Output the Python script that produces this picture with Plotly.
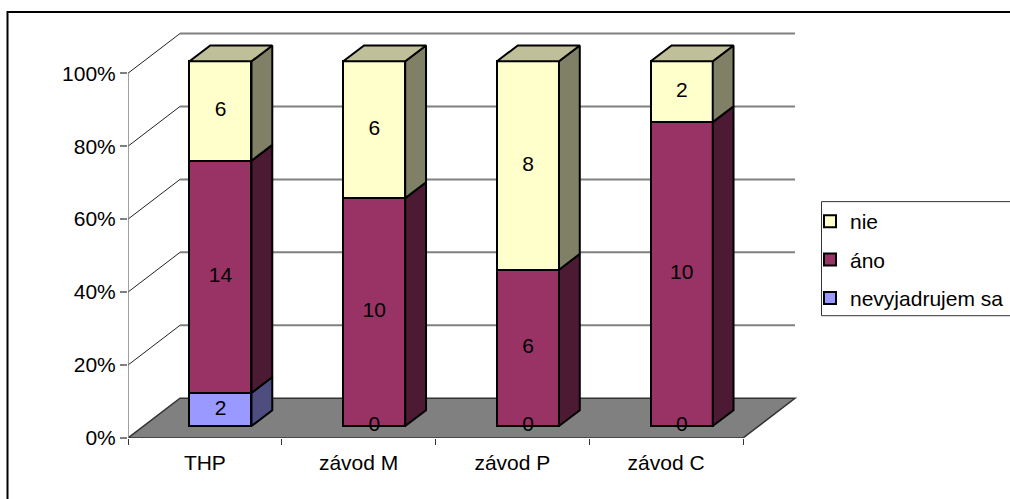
import plotly.graph_objects as go

# Survey answers per workplace (counts of respondents)
categories = ["THP", "závod M", "závod P", "závod C"]
nevyjadrujem_sa = [2, 0, 0, 0]
ano = [14, 10, 6, 10]
nie = [6, 6, 8, 2]
percent_ticks = [0, 20, 40, 60, 80, 100]

W, H = 1010, 499
# The plot area is slightly larger than the wall so the top gridline is not clipped
PLOT_L, PLOT_R, PLOT_T, PLOT_B = 128, 800, 30, 437.7
CAT_PX = 153.75
PCT_PX = 3.645

# Oblique projection: full floor depth expressed in axis units
DEPTH_X = 52 / CAT_PX
DEPTH_Y = 39.7 / PCT_PX
BAR_NEAR, BAR_FAR = 0.3, 0.7
BAR_W = 62 / CAT_PX
X_MAX = (PLOT_R - PLOT_L) / CAT_PX
Y_MAX = (PLOT_B - PLOT_T) / PCT_PX

FONT = "Liberation Sans, Arial, sans-serif"
FONT_SIZE = 21

# Stack order from the floor upwards
stack_bottom_up = [
    ("nevyjadrujem sa", nevyjadrujem_sa, "#9999FF", "#4D4D80"),
    ("áno", ano, "#993366", "#4D1A33"),
    ("nie", nie, "#FFFFCC", "#808066"),
]
TOP_COLOR = "#BFBF99"


def px_x(px):
    return (px - PLOT_L) / (PLOT_R - PLOT_L)


def px_y(px):
    return (PLOT_B - px) / (PLOT_B - PLOT_T)


def proj(cat, pct, depth):
    return cat + depth * DEPTH_X, pct + depth * DEPTH_Y


def path(points, close=True):
    d = "M" + " L".join(f"{x},{y}" for x, y in points)
    return d + (" Z" if close else "")


totals = [sum(s[1][i] for s in stack_bottom_up) for i in range(len(categories))]
segments = {}
for i in range(len(categories)):
    lo = 0.0
    for name, values, face, side in stack_bottom_up:
        hi = lo + 100 * values[i] / totals[i]
        segments[(name, i)] = (lo, hi)
        lo = hi

fig = go.Figure()

# Front faces, one bar trace per series; nie comes first so the legend reads top-down
for name, values, face, side in reversed(stack_bottom_up):
    centers, heights, bases = [], [], []
    for i in range(len(categories)):
        lo, hi = segments[(name, i)]
        cx, base = proj(i + 0.5, lo, BAR_NEAR)
        centers.append(cx)
        heights.append(hi - lo)
        bases.append(base)
    fig.add_trace(go.Bar(
        x=centers, y=heights, base=bases, width=BAR_W, name=name,
        legendgroup=name,
        marker=dict(color=face, line=dict(color="black", width=2)),
        hoverinfo="skip",
    ))


def add_face(points, color):
    xs = [p[0] for p in points] + [points[0][0]]
    ys = [p[1] for p in points] + [points[0][1]]
    fig.add_trace(go.Scatter(
        x=xs, y=ys, mode="lines", fill="toself", fillcolor=color,
        line=dict(color="black", width=2), showlegend=False, hoverinfo="skip",
    ))


# Side faces and the top cap of each column
for i in range(len(categories)):
    xl = i + 0.5 - BAR_W / 2
    xr = i + 0.5 + BAR_W / 2
    for name, values, face, side in stack_bottom_up:
        lo, hi = segments[(name, i)]
        if values[i] == 0:
            continue
        add_face([proj(xr, lo, BAR_NEAR), proj(xr, hi, BAR_NEAR),
                  proj(xr, hi, BAR_FAR), proj(xr, lo, BAR_FAR)], side)
    add_face([proj(xl, 100, BAR_NEAR), proj(xr, 100, BAR_NEAR),
              proj(xr, 100, BAR_FAR), proj(xl, 100, BAR_FAR)], TOP_COLOR)

# Value labels centred on each front face
lab_x, lab_y, lab_t = [], [], []
for name, values, face, side in stack_bottom_up:
    for i in range(len(categories)):
        lo, hi = segments[(name, i)]
        if name == "nevyjadrujem sa" or values[i] > 0:
            x, y = proj(i + 0.5, (lo + hi) / 2, BAR_NEAR)
            lab_x.append(x)
            lab_y.append(y)
            lab_t.append(str(values[i]))
fig.add_trace(go.Scatter(
    x=lab_x, y=lab_y, text=lab_t, mode="text", textposition="middle center",
    textfont=dict(family=FONT, size=FONT_SIZE, color="black"),
    showlegend=False, hoverinfo="skip",
))

n = len(categories)
shapes = []

# Back-wall gridlines with their slanted returns to the front axis
for v in percent_ticks:
    if v > 0:
        shapes.append(dict(type="path", layer="below", xref="x", yref="y",
                           path=path([proj(0, v, 0), proj(0, v, 1)], close=False),
                           line=dict(color="#222222", width=1)))
        shapes.append(dict(type="path", layer="below", xref="x", yref="y",
                           path=path([proj(0, v, 1), proj(n, v, 1)], close=False),
                           line=dict(color="#808080", width=2)))

# Floor
shapes.append(dict(type="path", layer="below", xref="x", yref="y",
                   path=path([proj(0, 0, 0), proj(n, 0, 0), proj(n, 0, 1), proj(0, 0, 1)]),
                   fillcolor="#808080", line=dict(color="#333333", width=1.5)))

# Front vertical axis
shapes.append(dict(type="path", layer="below", xref="x", yref="y",
                   path=path([proj(0, 0, 0), proj(0, 100, 0)], close=False),
                   line=dict(color="#808080", width=1.5)))

# Chart frame, running past the right and bottom edges of the page
shapes.append(dict(type="rect", layer="below", xref="paper", yref="paper",
                   x0=px_x(7.5), x1=px_x(W + 20), y0=px_y(H + 20), y1=px_y(12),
                   line=dict(color="black", width=2), fillcolor="rgba(0,0,0,0)"))

# Legend box, also running past the right edge
shapes.append(dict(type="rect", layer="below", xref="paper", yref="paper",
                   x0=px_x(821.5), x1=px_x(W + 20), y0=px_y(315.5), y1=px_y(201.5),
                   line=dict(color="#333333", width=1), fillcolor="white"))

fig.update_layout(
    width=W, height=H, barmode="overlay", bargap=0,
    margin=dict(l=PLOT_L, r=W - PLOT_R, t=PLOT_T, b=H - PLOT_B, pad=0, autoexpand=False),
    paper_bgcolor="white", plot_bgcolor="rgba(0,0,0,0)",
    font=dict(family=FONT, size=FONT_SIZE, color="black"),
    shapes=shapes,
    showlegend=True,
    legend=dict(
        x=px_x(810), y=px_y(201), xanchor="left", yanchor="top",
        bgcolor="rgba(0,0,0,0)", borderwidth=0, tracegroupgap=8,
        itemwidth=30, font=dict(family=FONT, size=FONT_SIZE),
        itemclick=False, itemdoubleclick=False,
    ),
    xaxis=dict(
        range=[0, X_MAX], tickmode="array",
        tickvals=[i + 0.5 for i in range(n)], ticktext=categories,
        ticks="outside", ticklen=6, tickcolor="rgba(0,0,0,0)",
        showgrid=False, zeroline=False, showline=False, fixedrange=True,
        minor=dict(tickmode="array", tickvals=list(range(n + 1)), ticks="outside",
                   ticklen=6, tickcolor="#333333", tickwidth=1, showgrid=False),
    ),
    yaxis=dict(
        range=[0, Y_MAX], tickmode="array", tickvals=percent_ticks,
        ticktext=[f"{v}%" for v in percent_ticks],
        ticks="outside", ticklen=7, tickcolor="#808080", tickwidth=1.5,
        showgrid=False, zeroline=False, showline=False, fixedrange=True,
    ),
)

fig.write_html("out.html", config=dict(displayModeBar=False))
